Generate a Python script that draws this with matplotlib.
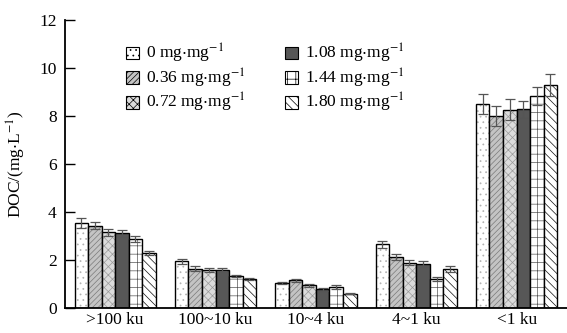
from matplotlib import pyplot as plt
import numpy as np

plt.rcParams['font.family'] = 'Liberation Serif'
plt.rcParams['mathtext.fontset'] = 'stix'
plt.rcParams['hatch.linewidth'] = 0.5

groups = ['>100 ku', '100~10 ku', '10~4 ku', '4~1 ku', '<1 ku']
doses = ['0', '0.36', '0.72', '1.08', '1.44', '1.80']

# DOC values, one list per dose, across the five groups
doc_0 = [3.53, 1.94, 1.04, 2.65, 8.50]
doc_036 = [3.43, 1.64, 1.15, 2.11, 8.01]
doc_072 = [3.15, 1.58, 0.94, 1.89, 8.26]
doc_108 = [3.11, 1.60, 0.78, 1.83, 8.28]
doc_144 = [2.87, 1.33, 0.86, 1.21, 8.83]
doc_180 = [2.28, 1.22, 0.60, 1.62, 9.29]

err_0 = [0.20, 0.09, 0.04, 0.13, 0.43]
err_036 = [0.15, 0.11, 0.05, 0.13, 0.42]
err_072 = [0.15, 0.09, 0.05, 0.10, 0.44]
err_108 = [0.15, 0.06, 0.05, 0.11, 0.36]
err_144 = [0.13, 0.05, 0.08, 0.07, 0.39]
err_180 = [0.09, 0.05, 0.03, 0.12, 0.46]

values = [doc_0, doc_036, doc_072, doc_108, doc_144, doc_180]
errors = [err_0, err_036, err_072, err_108, err_144, err_180]

# face colour, hatch, hatch colour
styles = [
    ('white', '...', '#b0b0b0'),
    ('#c4c4c4', '//////', '#7a7a7a'),
    ('#dcdcdc', 'xxxx', '#9a9a9a'),
    ('#575757', '', '#575757'),
    ('white', '++', '#555555'),
    ('white', '\\\\\\\\', '#111111'),
]

fig = plt.figure(figsize=(5.67, 3.33), dpi=100)
ax = fig.add_axes([0.1146, 0.075, 0.885, 0.865])

x = np.arange(len(groups))
w = 0.135
handles = []
for i in range(6):
    pos = x + (i - 2.5) * w
    fc, hatch, hc = styles[i]
    ax.bar(pos, values[i], w, color=fc, hatch=hatch, edgecolor=hc, linewidth=0)
    ax.bar(pos, values[i], w, fill=False, edgecolor='black', linewidth=1.0)
    ax.errorbar(pos, values[i], yerr=errors[i], fmt='none', ecolor='#555555',
                elinewidth=0.9, capsize=3.5, capthick=0.9)
    h = plt.Rectangle((0, 0), 1, 1, facecolor=fc, hatch=hatch, edgecolor='black', linewidth=0.8)
    handles.append(h)

ax.set_xlim(-0.5, 4.5)
ax.set_ylim(0, 12)
ax.set_yticks([0, 2, 4, 6, 8, 10, 12])
ax.set_xticks(x)
ax.set_xticklabels(groups, fontsize=12.5)
ax.tick_params(axis='y', direction='in', length=7, width=1, labelsize=12.5, pad=6)
ax.tick_params(axis='x', length=0, pad=3)
ax.spines['top'].set_visible(False)
ax.spines['right'].set_visible(False)
ax.spines['left'].set_linewidth(1.3)
ax.spines['bottom'].set_linewidth(1.3)
ax.set_ylabel('DOC/(mg$\\cdot$L$^{-1}$)', fontsize=12.5, labelpad=8)

labels = [d + ' mg$\\cdot$mg$^{-1}$' for d in doses]
ax.legend(handles, labels, ncol=2, frameon=False, loc='upper left',
          bbox_to_anchor=(0.2, 0.91), bbox_transform=fig.transFigure,
          fontsize=12.5, handlelength=0.75, handleheight=0.75, handletextpad=0.4,
          columnspacing=2.3, labelspacing=0.08, borderpad=0.2)

fig.savefig('out.png', dpi=100)
